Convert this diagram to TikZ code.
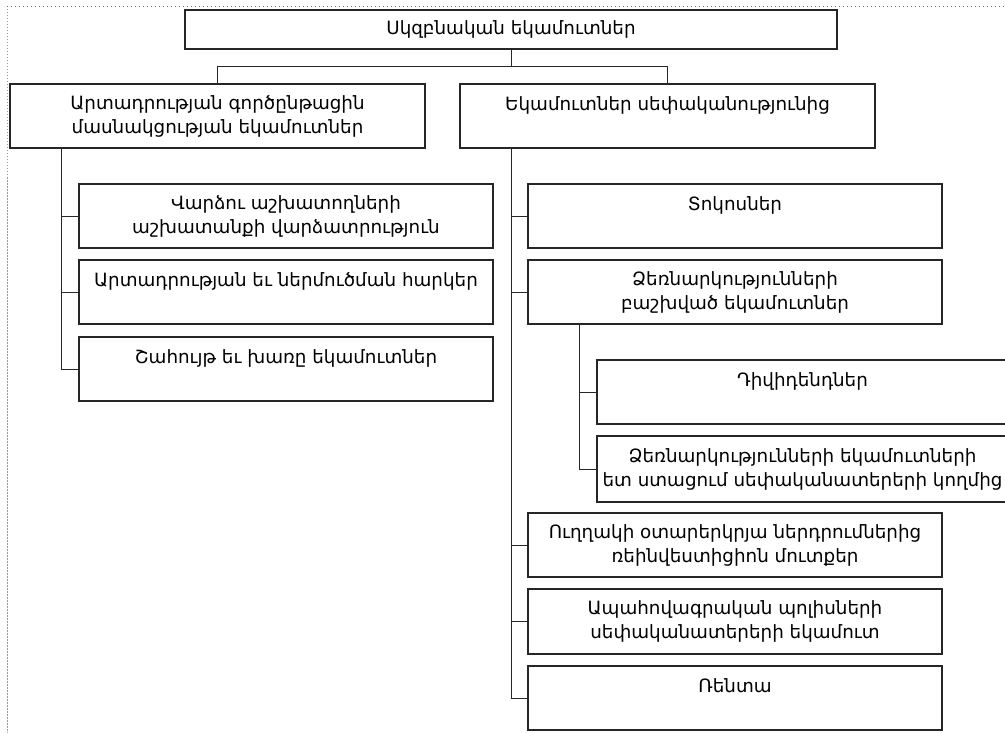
\documentclass[tikz,border=0pt]{standalone}
\usepackage{fontspec}
\setmainfont{DejaVu Sans}
\begin{document}
\begin{tikzpicture}[x=1pt,y=-1pt,
  box/.style={draw=black!85,line width=1.2pt,rectangle,inner sep=0pt,align=center,
    font=\fontsize{18.3}{24}\selectfont},
  conn/.style={draw=black!85,line width=0.9pt},
  leftedge/.style={draw=black!40,line width=1pt,dash pattern=on 1.5pt off 1.5pt},
  topedge/.style={draw=black!60,line width=0.8pt,dash pattern=on 1pt off 3pt}]
\useasboundingbox (0,0) rectangle (1005,733);
% page margin marks
\draw[leftedge] (7,6) -- (7,733);
\draw[topedge] (7,6) -- (1005,6);

\newcommand{\bx}[6]{% name, x1, y1, x2, y2, text
  \node[box,minimum width=#4-#2,minimum height=#5-#3] (#1) at ({(#2+#4)/2},{(#3+#5)/2}) {#6};}

\bx{top}{185}{10}{837}{49}{Սկզբնական եկամուտներ}
\bx{L}{10}{84}{425}{148}{Արտադրության գործընթացին\\մասնակցության եկամուտներ}
\bx{R}{460}{84}{875}{148}{Եկամուտներ սեփականությունից\\\mbox{}}

\bx{L1}{79}{184}{493}{248}{Վարձու աշխատողների\\աշխատանքի վարձատրություն}
\bx{L2}{79}{260}{493}{324}{Արտադրության եւ ներմուծման հարկեր\\\mbox{}}
\bx{L3}{79}{337}{493}{401}{Շահույթ եւ խառը եկամուտներ\\\mbox{}}

\bx{R1}{528}{184}{942}{248}{Տոկոսներ\\\mbox{}}
\bx{R2}{528}{260}{942}{324}{Ձեռնարկությունների\\բաշխված եկամուտներ}
\bx{R21}{597}{360}{1008}{424}{Դիվիդենդներ\\\mbox{}}
\bx{R22}{597}{436}{1008}{502}{Ձեռնարկությունների եկամուտների\\ետ ստացում սեփականատերերի կողմից}
\bx{R3}{528}{513}{942}{577}{Ուղղակի օտարերկրյա ներդրումներից\\ռեինվեստիցիոն մուտքեր}
\bx{R4}{528}{589}{942}{654}{Ապահովագրական պոլիսների\\սեփականատերերի եկամուտ}
\bx{R5}{528}{666}{942}{730}{Ռենտա\\\mbox{}}

% top level connectors
\coordinate (bus) at (511,66);
\draw[conn] (top.south) |- (bus) -| (L.north);
\draw[conn] (bus) -| (R.north);

% left trunk
\coordinate (lt) at (61,148);
\draw[conn] (lt) |- (L3.west);
\draw[conn] (61,0 |- L1.west) -- (L1.west);
\draw[conn] (61,0 |- L2.west) -- (L2.west);

% right trunk
\coordinate (rt) at (511,148);
\draw[conn] (rt) |- (R5.west);
\foreach \n in {R1,R2,R3,R4}{\draw[conn] (511,0 |- \n.west) -- (\n.west);}

% sub trunk
\coordinate (st) at (579,324);
\draw[conn] (st) |- (R22.west);
\draw[conn] (579,0 |- R21.west) -- (R21.west);
\end{tikzpicture}
\end{document}
